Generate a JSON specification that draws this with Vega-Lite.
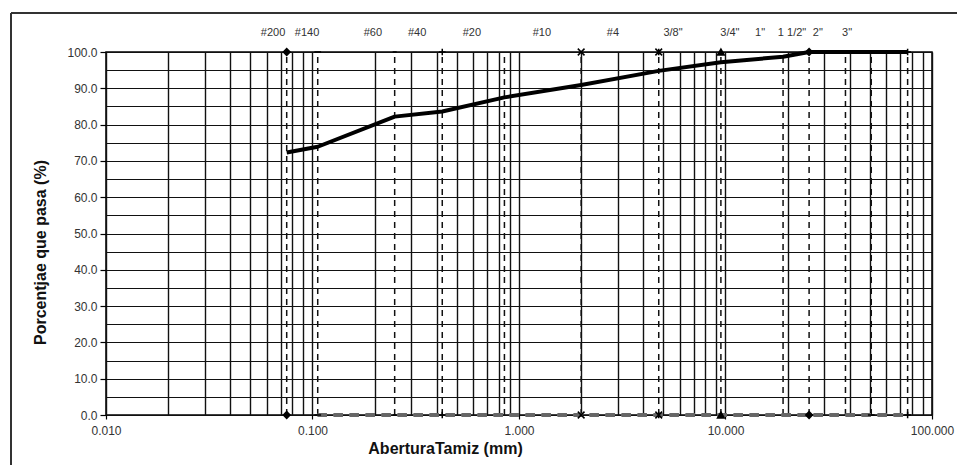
{
  "$schema": "https://vega.github.io/schema/vega-lite/v6.json",
  "autosize": "none",
  "width": 826,
  "height": 363,
  "padding": {"left": 106, "top": 52, "right": 25, "bottom": 50},
  "background": "white",
  "config": {
    "view": {"stroke": "black", "strokeWidth": 1.5},
    "font": "Liberation Sans",
    "axis": {"labelFont": "Liberation Sans", "titleFont": "Liberation Sans"}
  },
  "data": {
    "values": [
      {"sieve": "#200", "mm": 0.075, "pct": 72.3, "label_mm": 0.0644},
      {"sieve": "#140", "mm": 0.106, "pct": 73.9, "label_mm": 0.0941},
      {"sieve": "#60", "mm": 0.25, "pct": 82.2, "label_mm": 0.196},
      {"sieve": "#40", "mm": 0.425, "pct": 83.6, "label_mm": 0.321},
      {"sieve": "#20", "mm": 0.85, "pct": 87.5, "label_mm": 0.591},
      {"sieve": "#10", "mm": 2.0, "pct": 90.9, "label_mm": 1.29},
      {"sieve": "#4", "mm": 4.75, "pct": 94.8, "label_mm": 2.85},
      {"sieve": "3/8\"", "mm": 9.5, "pct": 97.2, "label_mm": 5.57},
      {"sieve": "3/4\"", "mm": 19.0, "pct": 98.7, "label_mm": 10.5},
      {"sieve": "1\"", "mm": 25.4, "pct": 100, "label_mm": 14.7},
      {"sieve": "1 1/2\"", "mm": 38.1, "pct": 100, "label_mm": 21.0},
      {"sieve": "2\"", "mm": 50.8, "pct": 100, "label_mm": 28.0},
      {"sieve": "3\"", "mm": 76.2, "pct": 100, "label_mm": 38.8}
    ]
  },
  "layer": [
    {
      "mark": {"type": "rule", "strokeDash": [6, 5], "strokeWidth": 1.5, "color": "#111"},
      "encoding": {
        "x": {
          "field": "mm", "type": "quantitative",
          "scale": {"type": "log", "domain": [0.01, 100], "nice": false},
          "axis": {
            "values": [0.01, 0.02, 0.03, 0.04, 0.05, 0.06, 0.07, 0.08, 0.09, 0.1, 0.2, 0.3, 0.4, 0.5, 0.6, 0.7, 0.8, 0.9, 1, 2, 3, 4, 5, 6, 7, 8, 9, 10, 20, 30, 40, 50, 60, 70, 80, 90, 100],
            "tickCount": 200,
            "labelExpr": "(datum.value == 0.01 || datum.value == 0.1 || datum.value == 1 || datum.value == 10 || datum.value == 100) ? format(datum.value, '.3f') : ''",
            "labelOverlap": false,
            "labelFlush": false,
            "labelFontSize": 12,
            "labelColor": "#333",
            "labelPadding": 6,
            "tickSize": 4,
            "tickWidth": 1.2,
            "tickColor": {"condition": {"test": "datum.value == 0.01 || datum.value == 0.1 || datum.value == 1 || datum.value == 10 || datum.value == 100", "value": "black"}, "value": "transparent"},
            "domain": false,
            "grid": true,
            "gridColor": "#111",
            "gridWidth": 1.4,
            "gridOpacity": 1,
            "title": "AberturaTamiz (mm)",
            "titleFontSize": 16,
            "titleFontWeight": "bold",
            "titleColor": "#111",
            "titleX": 339,
            "titleY": 33,
            "titleAlign": "center",
            "titleBaseline": "middle"
          }
        },
        "y": {
          "datum": 0, "type": "quantitative",
          "scale": {"domain": [0, 100], "nice": false, "zero": false}
        },
        "y2": {"datum": 100}
      }
    },
    {
      "mark": {"type": "rule", "strokeDash": [9, 7], "strokeWidth": 2.5, "color": "#666"},
      "encoding": {
        "x": {"datum": 0.106, "type": "quantitative"},
        "x2": {"datum": 76.2},
        "y": {"datum": 0, "type": "quantitative"}
      }
    },
    {
      "mark": {"type": "line", "strokeWidth": 4, "color": "black", "strokeJoin": "round"},
      "encoding": {
        "x": {"field": "mm", "type": "quantitative"},
        "y": {
          "field": "pct", "type": "quantitative",
          "axis": {
            "values": [0, 5, 10, 15, 20, 25, 30, 35, 40, 45, 50, 55, 60, 65, 70, 75, 80, 85, 90, 95, 100],
            "tickCount": 200,
            "labelExpr": "datum.value % 10 == 0 ? format(datum.value, '.1f') : ''",
            "labelOverlap": false,
            "labelFlush": false,
            "labelFontSize": 12,
            "labelColor": "#333",
            "labelPadding": 3,
            "tickSize": 6,
            "tickWidth": 1.2,
            "tickColor": {"condition": {"test": "datum.value % 10 == 0", "value": "black"}, "value": "transparent"},
            "domain": false,
            "grid": true,
            "gridColor": "#111",
            "gridWidth": 1.2,
            "gridOpacity": 1,
            "title": "Porcentjae que pasa (%)",
            "titleFontSize": 16,
            "titleFontWeight": "bold",
            "titleColor": "#111",
            "titleX": -66,
            "titleY": 200,
            "titleAngle": -90,
            "titleAlign": "center",
            "titleBaseline": "middle"
          }
        }
      }
    },
    {
      "mark": {"type": "point", "filled": true, "fill": "black", "stroke": "black", "strokeWidth": 1.5, "opacity": 1, "size": 45},
      "encoding": {
        "x": {"field": "mm", "type": "quantitative"},
        "y": {"datum": 100, "type": "quantitative"},
        "shape": {
          "field": "sieve", "type": "nominal", "legend": null,
          "scale": {
            "domain": ["#200", "#140", "#60", "#40", "#20", "#10", "#4", "3/8\"", "3/4\"", "1\"", "1 1/2\"", "2\"", "3\""],
            "range": ["diamond", "M-1,0H1", "M-0.6,0H0.6", "M0,-1V1M-1,0H1", "M0,0", "M-1,-1L1,1M-1,1L1,-1", "M-1,-1L1,1M-1,1L1,-1M0,-1V1", "triangle-up", "M0,0", "diamond", "M0,0", "M-1,0H1", "M0,-1V1M-1,0H1"]
          }
        }
      }
    },
    {
      "mark": {"type": "point", "filled": true, "fill": "black", "stroke": "black", "strokeWidth": 1.5, "opacity": 1, "size": 45},
      "encoding": {
        "x": {"field": "mm", "type": "quantitative"},
        "y": {"datum": 0, "type": "quantitative"},
        "shape": {"field": "sieve", "type": "nominal", "legend": null}
      }
    },
    {
      "mark": {"type": "text", "fontSize": 11, "color": "#333", "baseline": "middle", "align": "center"},
      "encoding": {
        "x": {"field": "label_mm", "type": "quantitative"},
        "y": {"datum": 105.2, "type": "quantitative"},
        "text": {"field": "sieve"}
      }
    },
    {
      "mark": {"type": "rule", "strokeWidth": 1.5, "color": "#333"},
      "encoding": {
        "x": {"datum": 0.003467, "type": "quantitative"},
        "y": {"datum": 110.74, "type": "quantitative"},
        "y2": {"datum": -30}
      }
    },
    {
      "mark": {"type": "rule", "strokeWidth": 1.5, "color": "#333"},
      "encoding": {
        "x": {"datum": 0.003467, "type": "quantitative"},
        "x2": {"datum": 1000},
        "y": {"datum": 110.74, "type": "quantitative"}
      }
    }
  ]
}
